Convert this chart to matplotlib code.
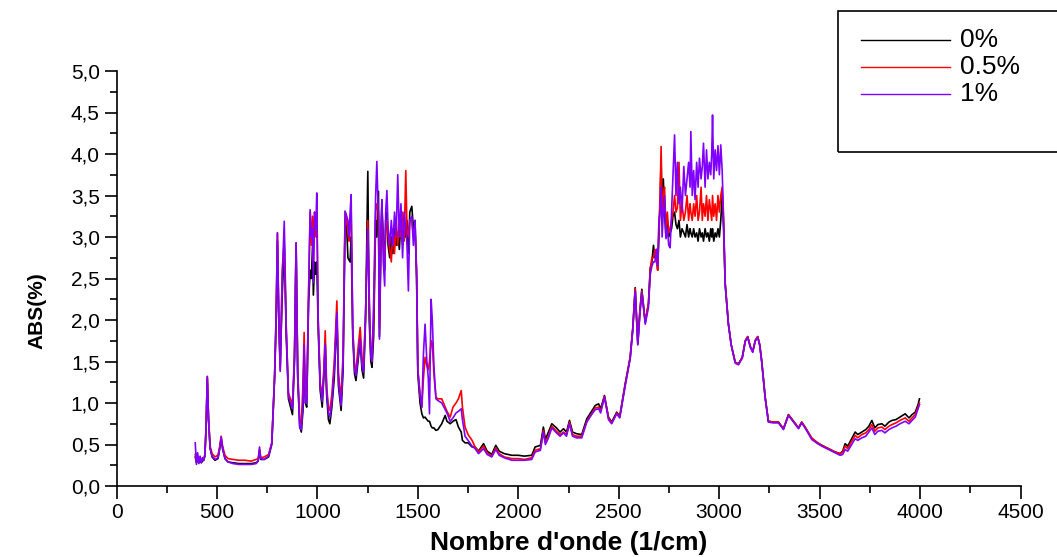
"""FTIR absorbance spectra for three loadings (0 %, 0.5 %, 1 %)."""

import matplotlib
matplotlib.use("Agg")
import matplotlib.pyplot as plt
from matplotlib.lines import Line2D
from matplotlib.patches import Rectangle
from matplotlib.ticker import FuncFormatter, MultipleLocator

plt.rcParams["font.family"] = ["Liberation Sans", "DejaVu Sans"]

# wavenumber grid (1/cm), shared by the three spectra
wn = [
    # 390-790
    392, 398, 404, 410, 416, 422, 428, 434, 440, 446, 452, 458, 466, 476, 490, 505, 514,
    521, 528, 540, 555, 580, 610, 640, 670, 695, 705, 712, 718, 735, 757, 773, 787,
    # 790-1000
    795, 801, 808, 815, 825, 835, 845, 856, 876, 886, 894, 902, 912, 920, 928, 934, 940,
    947, 956, 964, 970, 976, 980, 986, 992, 997,
    # 1000-1350
    1004, 1014, 1024, 1032, 1039, 1046, 1055, 1062, 1072, 1084, 1097, 1105, 1118, 1128,
    1138, 1146, 1152, 1158, 1163, 1168, 1176, 1185, 1192, 1202, 1213, 1222, 1230, 1240,
    1251, 1258, 1266, 1272, 1280, 1290, 1296, 1304, 1309, 1316, 1321, 1328, 1335, 1340, 1346,
    # 1350-1520
    1352, 1360, 1368, 1376, 1384, 1392, 1400, 1408, 1416, 1424, 1432, 1440, 1446, 1453,
    1460, 1470, 1478, 1486, 1494, 1500, 1511, 1520,
    # 1520-2510
    1528, 1536, 1545, 1552, 1558, 1566, 1572, 1580, 1590, 1600, 1619, 1636, 1645, 1661,
    1675, 1690, 1702, 1716, 1722, 1735, 1750, 1770, 1785, 1802, 1827, 1845, 1868, 1888,
    1905, 1930, 1968, 2000, 2030, 2067, 2084, 2110, 2125, 2135, 2150, 2167, 2190, 2208,
    2225, 2240, 2255, 2270, 2290, 2316, 2341, 2365, 2383, 2400, 2410, 2429, 2449, 2465,
    2490, 2505,
    # 2510-3025
    2532, 2557, 2570, 2582, 2595, 2605, 2615, 2632, 2648, 2657, 2665, 2673, 2680, 2688,
    2694, 2700, 2706, 2711, 2716, 2722, 2728, 2735, 2742, 2749, 2756, 2763, 2770, 2778,
    2785, 2792, 2800, 2807, 2815, 2824, 2832, 2840, 2848, 2855, 2859, 2866, 2873, 2880,
    2888, 2895, 2902, 2910, 2916, 2922, 2930, 2937, 2944, 2951, 2958, 2963, 2967, 2973,
    2980, 2987, 2994, 3001, 3008, 3015, 3022,
    # 3030-4000
    3030, 3046, 3060, 3080, 3096, 3115, 3130, 3142, 3155, 3167, 3180, 3192, 3202, 3212,
    3229, 3245, 3270, 3295, 3320, 3345, 3370, 3395, 3411, 3430, 3461, 3490, 3511, 3544,
    3577, 3602, 3615, 3627, 3640, 3655, 3677, 3690, 3710, 3730, 3745, 3760, 3775, 3790,
    3810, 3825, 3845, 3860, 3880, 3900, 3926, 3945, 3960, 3976, 3990, 3997,
]

abs_0 = [
    0.35, 0.28, 0.32, 0.28, 0.31, 0.28, 0.30, 0.31, 0.36, 0.70, 1.30, 0.80, 0.45, 0.35, 0.31, 0.33, 0.45,
    0.57, 0.45, 0.33, 0.29, 0.28, 0.27, 0.27, 0.27, 0.28, 0.30, 0.42, 0.32, 0.32, 0.35, 0.50, 1.30,
    2.00, 2.95, 2.00, 1.45, 2.30, 2.90, 1.80, 1.05, 0.86, 1.50, 2.90, 1.30, 0.72, 0.65, 0.90, 1.60, 1.00,
    0.95, 2.20, 2.60, 2.50, 2.90, 2.30, 2.70, 2.55, 2.70,
    1.90, 1.15, 0.95, 1.30, 1.70, 1.10, 0.80, 0.75, 0.95, 1.30, 2.05, 1.20, 0.91, 1.40,
    3.20, 3.10, 2.75, 2.72, 2.70, 3.00, 1.80, 1.35, 1.27, 1.50, 1.75, 1.40, 1.30, 2.00,
    3.79, 2.00, 1.50, 1.43, 1.80, 3.20, 3.00, 3.55, 1.80, 2.80, 3.40, 3.00, 2.60, 3.20, 3.30,
    2.90, 2.75, 3.00, 2.80, 3.10, 2.90, 3.05, 2.85, 3.20, 2.90, 3.10, 3.00, 3.20, 2.80,
    3.30, 3.37, 3.10, 3.20, 2.50, 1.35, 1.00, 0.87,
    0.82, 0.83, 0.80, 0.78, 0.78, 0.72, 0.70, 0.70, 0.67, 0.68, 0.75, 0.85, 0.78, 0.75,
    0.78, 0.80, 0.71, 0.65, 0.55, 0.52, 0.52, 0.47, 0.47, 0.42, 0.51, 0.42, 0.38, 0.49,
    0.42, 0.39, 0.37, 0.37, 0.36, 0.37, 0.47, 0.49, 0.71, 0.56, 0.65, 0.75, 0.70, 0.65,
    0.69, 0.65, 0.79, 0.65, 0.63, 0.62, 0.81, 0.90, 0.97, 0.99, 0.93, 1.09, 0.83, 0.77,
    0.89, 0.84,
    1.23, 1.55, 1.90, 2.39, 1.71, 2.10, 2.37, 1.97, 2.20, 2.63, 2.70, 2.90, 2.75, 2.85,
    2.60, 3.00, 3.43, 3.95, 3.20, 3.70, 3.30, 3.00, 3.20, 3.00, 3.05, 3.10, 3.25, 3.30,
    3.15, 3.10, 3.20, 3.00, 3.10, 3.05, 3.00, 3.15, 3.00, 3.10, 3.05, 3.00, 3.10, 3.00,
    3.05, 2.95, 3.10, 3.00, 3.05, 2.95, 3.10, 3.00, 3.05, 2.95, 3.10, 3.00, 3.10, 2.95,
    3.05, 3.00, 3.10, 3.00, 3.20, 3.50, 3.10,
    2.43, 1.95, 1.70, 1.49, 1.47, 1.55, 1.75, 1.80, 1.68, 1.62, 1.75, 1.80, 1.70, 1.50,
    1.07, 0.78, 0.77, 0.77, 0.69, 0.86, 0.78, 0.70, 0.77, 0.70, 0.57, 0.52, 0.49, 0.45,
    0.41, 0.39, 0.42, 0.51, 0.48, 0.55, 0.65, 0.62, 0.65, 0.68, 0.72, 0.79, 0.70, 0.74,
    0.75, 0.72, 0.77, 0.79, 0.80, 0.83, 0.87, 0.82, 0.86, 0.89, 0.98, 1.05,
]

abs_05 = [
    0.38, 0.30, 0.36, 0.31, 0.35, 0.30, 0.33, 0.33, 0.38, 0.72, 1.32, 0.82, 0.48, 0.39, 0.35, 0.37, 0.48,
    0.60, 0.48, 0.37, 0.33, 0.32, 0.31, 0.31, 0.30, 0.32, 0.33, 0.44, 0.34, 0.35, 0.38, 0.52, 1.32,
    2.10, 3.05, 2.00, 1.40, 2.60, 2.95, 1.90, 1.12, 0.98, 1.60, 2.93, 1.40, 0.80, 0.75, 1.20, 1.85, 1.10,
    1.05, 2.30, 3.30, 2.90, 3.25, 2.70, 3.30, 3.00, 3.30,
    2.00, 1.25, 1.08, 1.40, 1.87, 1.20, 0.95, 0.91, 1.10, 1.50, 2.23, 1.35, 1.05, 1.60,
    3.31, 3.20, 3.05, 2.95, 3.25, 3.30, 1.90, 1.45, 1.40, 1.65, 1.91, 1.55, 1.45, 2.10,
    3.20, 2.20, 1.60, 1.55, 2.00, 3.30, 3.40, 3.30, 1.90, 3.00, 3.30, 2.90, 2.70, 3.10, 3.20,
    3.00, 2.85, 2.70, 3.10, 2.80, 3.20, 2.90, 3.20, 3.00, 3.30, 2.95, 3.80, 3.10, 3.00,
    3.20, 3.20, 3.00, 3.10, 2.60, 1.40, 1.10, 0.95,
    1.30, 1.55, 1.45, 1.40, 1.50, 1.75, 1.72, 1.35, 1.07, 1.05, 1.05, 0.95, 0.90, 0.83,
    0.95, 1.00, 1.05, 1.15, 0.95, 0.71, 0.62, 0.55, 0.47, 0.41, 0.48, 0.40, 0.36, 0.46,
    0.39, 0.35, 0.33, 0.33, 0.32, 0.34, 0.43, 0.45, 0.67, 0.52, 0.60, 0.72, 0.66, 0.62,
    0.65, 0.62, 0.77, 0.62, 0.60, 0.60, 0.78, 0.87, 0.94, 0.95, 0.90, 1.08, 0.82, 0.76,
    0.88, 0.83,
    1.22, 1.55, 1.90, 2.38, 1.72, 2.10, 2.35, 1.98, 2.20, 2.60, 2.75, 2.75, 2.85, 2.70,
    2.60, 3.10, 3.50, 4.09, 3.30, 3.50, 3.60, 3.10, 3.30, 3.05, 3.10, 3.20, 3.30, 3.50,
    3.30, 3.35, 3.90, 3.20, 3.40, 3.20, 3.30, 3.50, 3.20, 3.40, 3.30, 3.20, 3.40, 3.25,
    3.50, 3.20, 3.30, 3.60, 3.20, 3.40, 3.25, 3.50, 3.20, 3.45, 3.30, 3.20, 3.50, 3.25,
    3.40, 3.20, 3.50, 3.30, 3.50, 3.60, 3.20,
    2.45, 1.95, 1.70, 1.49, 1.47, 1.55, 1.75, 1.80, 1.68, 1.62, 1.76, 1.80, 1.70, 1.50,
    1.07, 0.78, 0.77, 0.77, 0.69, 0.86, 0.78, 0.70, 0.77, 0.70, 0.58, 0.52, 0.49, 0.45,
    0.41, 0.39, 0.41, 0.48, 0.45, 0.52, 0.61, 0.58, 0.62, 0.64, 0.68, 0.74, 0.66, 0.70,
    0.71, 0.68, 0.72, 0.74, 0.76, 0.79, 0.82, 0.78, 0.82, 0.86, 0.95, 1.00,
]

abs_1 = [
    0.52, 0.26, 0.40, 0.27, 0.36, 0.28, 0.34, 0.31, 0.37, 0.72, 1.32, 0.82, 0.46, 0.36, 0.32, 0.34, 0.46,
    0.59, 0.46, 0.33, 0.29, 0.27, 0.26, 0.26, 0.26, 0.27, 0.30, 0.47, 0.33, 0.32, 0.36, 0.52, 1.33,
    2.10, 3.05, 2.00, 1.38, 2.50, 3.19, 1.90, 1.08, 0.93, 1.55, 2.93, 1.35, 0.70, 0.68, 1.00, 1.70, 1.00,
    1.00, 2.30, 3.33, 3.00, 3.10, 2.45, 3.30, 3.10, 3.53,
    2.00, 1.20, 1.02, 1.35, 1.71, 1.15, 0.88, 0.83, 1.00, 1.40, 2.09, 1.25, 0.97, 1.50,
    3.31, 3.25, 3.20, 3.00, 3.30, 3.51, 1.90, 1.40, 1.33, 1.55, 1.78, 1.45, 1.37, 2.10,
    3.10, 2.30, 1.55, 1.50, 2.20, 3.50, 3.91, 3.20, 1.77, 3.10, 3.45, 2.70, 2.41, 3.30, 3.56,
    3.10, 2.90, 3.20, 2.90, 3.30, 3.00, 3.75, 3.00, 3.40, 2.75, 3.30, 3.10, 2.90, 2.35,
    3.20, 3.25, 2.90, 3.20, 2.50, 1.40, 1.10, 0.95,
    1.60, 1.95, 1.50, 1.30, 0.87, 2.25, 2.00, 1.45, 1.05, 1.03, 1.00, 0.92, 0.88, 0.78,
    0.82, 0.88, 0.90, 0.93, 0.80, 0.60, 0.55, 0.48, 0.45, 0.39, 0.45, 0.38, 0.35, 0.44,
    0.37, 0.34, 0.31, 0.31, 0.31, 0.32, 0.41, 0.43, 0.65, 0.50, 0.58, 0.70, 0.64, 0.60,
    0.64, 0.60, 0.75, 0.60, 0.58, 0.58, 0.77, 0.86, 0.92, 0.93, 0.88, 1.07, 0.80, 0.75,
    0.87, 0.82,
    1.20, 1.53, 1.88, 2.35, 1.70, 2.05, 2.33, 1.95, 2.15, 2.55, 2.65, 2.70, 2.70, 2.85,
    2.65, 3.20, 3.30, 3.60, 3.00, 3.30, 3.50, 2.98, 3.10, 2.90, 2.87, 3.30, 3.70, 4.23,
    3.50, 3.90, 3.40, 3.60, 3.30, 3.85, 3.50, 3.70, 3.90, 3.60, 4.27, 3.50, 3.80, 3.45,
    3.90, 3.60, 3.95, 3.70, 3.85, 4.13, 3.60, 4.05, 3.70, 3.90, 3.75, 4.00, 4.47, 3.70,
    4.05, 3.80, 4.10, 3.75, 4.11, 3.80, 3.20,
    2.43, 1.95, 1.70, 1.48, 1.46, 1.54, 1.74, 1.79, 1.67, 1.61, 1.75, 1.79, 1.69, 1.49,
    1.06, 0.77, 0.76, 0.76, 0.68, 0.85, 0.77, 0.69, 0.76, 0.69, 0.56, 0.51, 0.48, 0.44,
    0.40, 0.37, 0.38, 0.44, 0.42, 0.48, 0.57, 0.55, 0.58, 0.60, 0.65, 0.70, 0.62, 0.66,
    0.67, 0.64, 0.68, 0.70, 0.72, 0.75, 0.78, 0.75, 0.79, 0.83, 0.93, 0.98,
]

series_labels = ["0%", "0.5%", "1%"]
series_colors = ["#000000", "#ff0000", "#8000ff"]

W, H = 1057, 557
fig = plt.figure(figsize=(W / 100, H / 100), dpi=100)
ax = fig.add_axes([116.5 / W, 1 - 486 / H, 904 / W, 415 / H])

lines = []
for y, col in zip([abs_0, abs_05, abs_1], series_colors):
    (ln,) = ax.plot(wn, y, color=col, lw=1.2)
    lines.append(ln)

ax.set_xlim(0, 4500)
ax.set_ylim(0, 5)
ax.xaxis.set_major_locator(MultipleLocator(500))
ax.xaxis.set_minor_locator(MultipleLocator(250))
ax.yaxis.set_major_locator(MultipleLocator(0.5))
ax.yaxis.set_minor_locator(MultipleLocator(0.25))
ax.yaxis.set_major_formatter(FuncFormatter(lambda v, p: f"{v:.1f}".replace(".", ",")))

for side in ("top", "right"):
    ax.spines[side].set_visible(False)
for side in ("left", "bottom"):
    ax.spines[side].set_linewidth(1.2)

ax.tick_params(which="major", direction="out", length=9, width=1.2, labelsize=15, pad=3)
ax.tick_params(which="minor", direction="out", length=5, width=1.2)

fig.text(568.5 / W, 1 - 550 / H, "Nombre d'onde (1/cm)", ha="center", va="baseline",
         fontsize=19, fontweight="bold")
fig.text(37 / W, 1 - 311 / H, "ABS(%)", rotation=90, ha="center", va="center",
         fontsize=15, fontweight="bold",
         family=["Liberation Sans Narrow", "Liberation Sans", "DejaVu Sans"])

# legend box, drawn by hand so it can run off the right edge like the original
fig.add_artist(Rectangle((838 / W, 1 - 152 / H), 0.25, 141 / H, transform=fig.transFigure,
                         fill=False, lw=1.2, ec="black"))
for i, (ln, lab) in enumerate(zip(lines, series_labels)):
    yy = 1 - (40 + 27 * i) / H
    fig.add_artist(Line2D([861 / W, 950 / W], [yy, yy], transform=fig.transFigure,
                          color=ln.get_color(), lw=1.0))
    fig.text(960 / W, yy, lab, fontsize=19, va="center", ha="left")

fig.savefig("out.png", dpi=100)
